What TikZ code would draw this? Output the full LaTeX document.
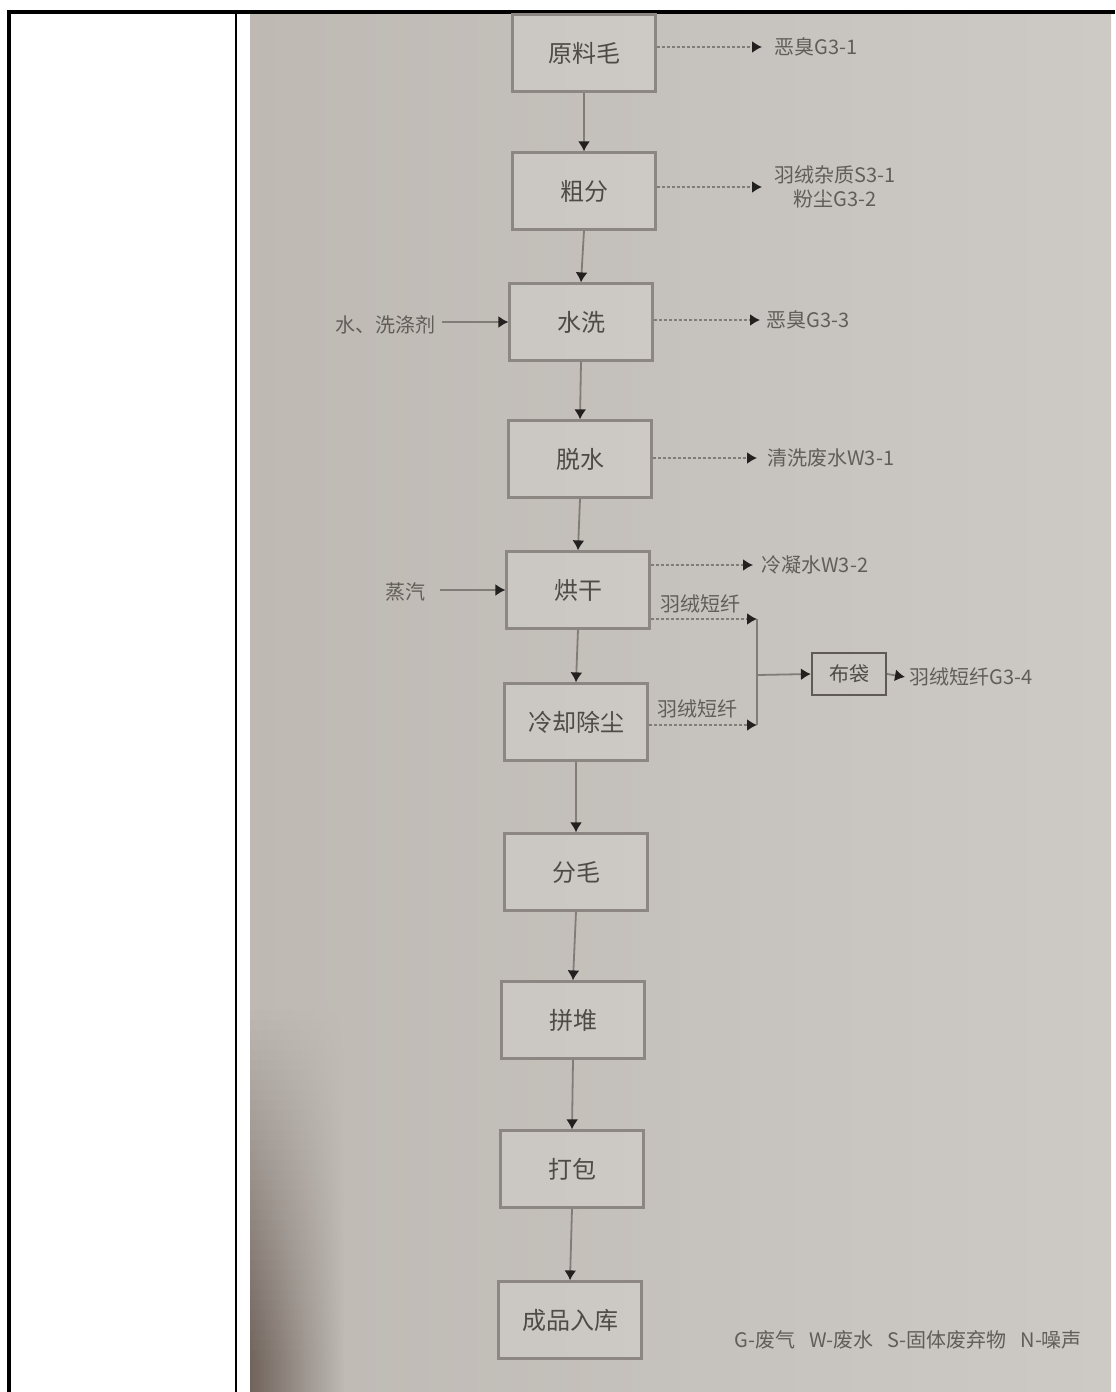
\documentclass[tikz,border=0pt]{standalone}
\usepackage{fontspec}
\newfontfamily\cjk{Noto Sans CJK SC}
\usepackage{xcolor}
\usepackage{tikz}
\usetikzlibrary{positioning,arrows.meta}

\definecolor{paperL}{RGB}{190,185,179}
\definecolor{paperR}{RGB}{205,202,198}
\definecolor{shadowbrown}{RGB}{112,99,92}
\definecolor{boxline}{RGB}{140,135,130}
\definecolor{bagline}{RGB}{95,90,86}
\definecolor{wire}{RGB}{128,124,120}
\definecolor{tipcol}{RGB}{35,33,32}
\definecolor{ink}{RGB}{78,74,70}

\begin{document}
\begin{tikzpicture}[x=0.5pt, y=-0.5pt,
    proc/.style  ={draw=boxline, line width=1.1pt, fill=white, fill opacity=0.15,
                   text opacity=1, minimum width=71.5pt, minimum height=38.5pt,
                   inner sep=0pt, font=\cjk\fontsize{12}{14}\selectfont, text=ink},
    bag/.style   ={draw=bagline, line width=1.1pt, minimum width=37pt,
                   minimum height=21pt, inner sep=0pt,
                   font=\cjk\fontsize{10}{12}\selectfont, text=ink},
    lab/.style   ={font=\cjk\fontsize{10}{12}\selectfont, text=ink!85!paperR,
                   inner ysep=1pt, inner xsep=3pt},
    flow/.style  ={-{Latex[length=5pt, width=6pt, color=tipcol]}, line width=0.9pt,
                   draw=wire},
    emit/.style  ={flow, dash pattern=on 1.5pt off 1pt},
    collect/.style ={line width=0.9pt, draw=wire}
  ]
    \useasboundingbox (0,0) rectangle (1115,1392);

    % --- table cell and photo ---
    \shade[left color=paperL, right color=paperR] (250,13) rectangle (1111,1392);
    \foreach \i in {0,...,38} {
      \pgfmathsetmacro\p{min(100,\i*2.8)}
      \shade[left color=shadowbrown!\p!paperL, right color=paperR!11!paperL]
        (250,1000+10*\i) rectangle (345,1011+10*\i);
    }
    \draw[line width=2pt] (8.5,1392) -- (8.5,11.5) -- (1115,11.5);
    \draw[line width=1pt] (236,13) -- (236,1392);

    % --- main process line ---
    \node[proc] (ylm) at (584,53)   {原料毛};
    \node[proc] (cf)  at (584,191)  {粗分};
    \node[proc] (sx)  at (581,322)  {水洗};
    \node[proc] (ts)  at (580,459)  {脱水};
    \node[proc] (hg)  at (578,590)  {烘干};
    \node[proc] (lq)  at (576,722)  {冷却除尘};
    \node[proc] (fm)  at (576,872)  {分毛};
    \node[proc] (pd)  at (573,1020) {拼堆};
    \node[proc] (db)  at (572,1169) {打包};
    \node[proc] (rk)  at (570,1320) {成品入库};
    \foreach \a/\b in {ylm/cf, cf/sx, sx/ts, ts/hg, hg/lq, lq/fm, fm/pd, pd/db, db/rk}
      \draw[flow] (\a.south) -- (\b.north);

    % --- inputs ---
    \node[lab, anchor=east] (in1) at (442,325) {水、洗涤剂};
    \node[lab, anchor=east, inner xsep=7pt] (in2) at (440,592) {蒸汽};
    \draw[flow] (in1.east |- sx.west) -- (sx.west);
    \draw[flow] (in2.east |- hg.west) -- (hg.west);

    % --- emissions ---
    \node[lab, anchor=west, inner xsep=6pt] (g31) at (762,47)  {恶臭G3-1};
    \node[lab, anchor=west, inner xsep=6pt, align=center] (s31) at (762,187)
      {羽绒杂质S3-1\\粉尘G3-2};
    \node[lab, anchor=west] (g33) at (760,320) {恶臭G3-3};
    \node[lab, anchor=west, inner xsep=5pt] (w31) at (757,458) {清洗废水W3-1};
    \node[lab, anchor=west, inner xsep=4pt] (w32) at (753,565) {冷凝水W3-2};
    \draw[emit] (ylm.east |- g31.west) -- (g31.west);
    \draw[emit] (cf.east |- s31.west)  -- (s31.west);
    \draw[emit] (sx.east |- g33.west)  -- (g33.west);
    \draw[emit] (ts.east |- w31.west)  -- (w31.west);
    \draw[emit] (hg.east |- w32.west)  -- (w32.west);

    % --- short fibre to bag filter ---
    \node[bag] (bd) at (849,674) {布袋};
    \node[lab, anchor=west, inner xsep=2pt] (g34) at (905,677) {羽绒短纤G3-4};
    \node[lab] (dx1) at (700,604) {羽绒短纤};
    \node[lab] (dx2) at (697,709) {羽绒短纤};
    \coordinate (j1) at (757,619);
    \coordinate (j2) at (757,725);
    \coordinate (jm) at (757,675);
    \draw[emit] (hg.east |- j1) -- (j1);
    \draw[emit] (lq.east |- j2) -- (j2);
    \draw[collect] (j1) -- (j2);
    \draw[flow] (jm) -- (bd.west);
    \draw[flow] (bd.east) -- (g34.west);

    % --- key ---
    \node[lab, anchor=west] (key) at (728,1340)
      {G-废气\hspace{0.7em}W-废水\hspace{0.7em}S-固体废弃物\hspace{0.7em}N-噪声};
  \end{tikzpicture}
\end{document}
